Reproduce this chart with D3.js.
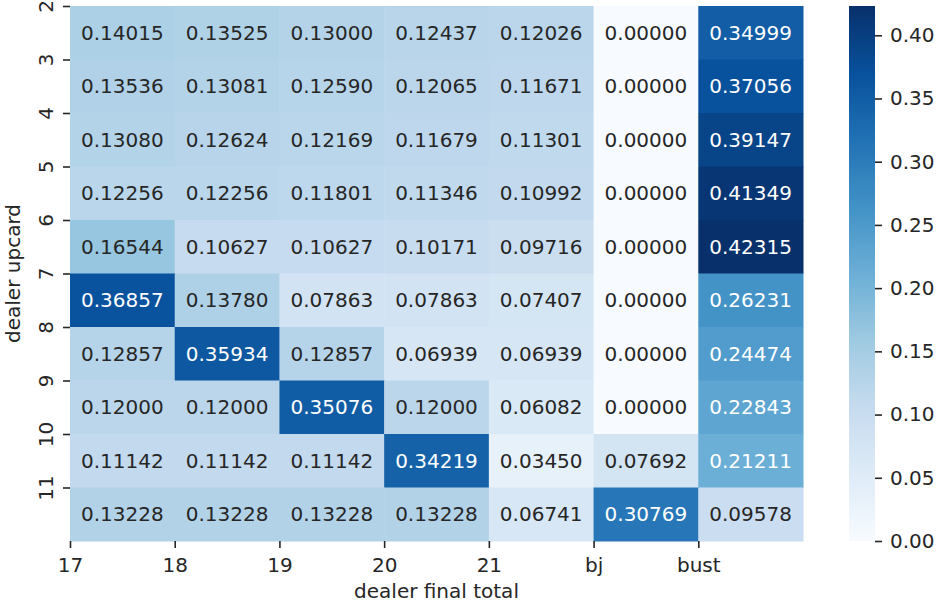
<!DOCTYPE html>
<html>
<head>
<meta charset="utf-8">
<script src="https://cdn.jsdelivr.net/npm/d3@7"></script>
<style>
  body { margin: 0; background: #fff; }
  text { font-family: "DejaVu Sans", sans-serif; }
</style>
</head>
<body>
<div id="chart"></div>
<script>
// -------------------- DATA --------------------
const FINAL_TOTALS = ["17", "18", "19", "20", "21", "bj", "bust"];
const UPCARDS = ["2", "3", "4", "5", "6", "7", "8", "9", "10", "11"];
const PROBS = [
  [0.14015, 0.13525, 0.13000, 0.12437, 0.12026, 0.00000, 0.34999],
  [0.13536, 0.13081, 0.12590, 0.12065, 0.11671, 0.00000, 0.37056],
  [0.13080, 0.12624, 0.12169, 0.11679, 0.11301, 0.00000, 0.39147],
  [0.12256, 0.12256, 0.11801, 0.11346, 0.10992, 0.00000, 0.41349],
  [0.16544, 0.10627, 0.10627, 0.10171, 0.09716, 0.00000, 0.42315],
  [0.36857, 0.13780, 0.07863, 0.07863, 0.07407, 0.00000, 0.26231],
  [0.12857, 0.35934, 0.12857, 0.06939, 0.06939, 0.00000, 0.24474],
  [0.12000, 0.12000, 0.35076, 0.12000, 0.06082, 0.00000, 0.22843],
  [0.11142, 0.11142, 0.11142, 0.34219, 0.03450, 0.07692, 0.21211],
  [0.13228, 0.13228, 0.13228, 0.13228, 0.06741, 0.30769, 0.09578]
];
const CBAR_TICKS = [0, 0.05, 0.10, 0.15, 0.20, 0.25, 0.30, 0.35, 0.40];

// matplotlib "Blues"
const BLUES = ["#f7fbff", "#deebf7", "#c6dbef", "#9ecae1", "#6baed6",
               "#4292c6", "#2171b5", "#08519c", "#08306b"];

const W = 938, H = 607;
const FS = "20px";
const INK = "#262626";
const margin = { top: 6, left: 70 },
      width = 733,
      height = 535;

const svg = d3.select("#chart").append("svg")
  .attr("width", W).attr("height", H);

const g = svg.append("g")
  .attr("transform", `translate(${margin.left}, ${margin.top})`);

const cells = [];
PROBS.forEach((row, i) => row.forEach((v, j) => {
  cells.push({ upcard: UPCARDS[i], total: FINAL_TOTALS[j], value: v });
}));

const vmin = 0, vmax = d3.max(cells, d => d.value);

// -------------------- SCALES --------------------
const x = d3.scaleBand().domain(FINAL_TOTALS).range([0, width]);
const y = d3.scaleBand().domain(UPCARDS).range([0, height]);

const cmap = d3.scaleLinear()
  .domain(d3.range(BLUES.length).map(i => i / (BLUES.length - 1)))
  .range(BLUES)
  .interpolate(d3.interpolateRgb)
  .clamp(true);
const color = v => cmap((v - vmin) / (vmax - vmin));

function lum(c) {
  const rgb = d3.rgb(c);
  const f = u => { u /= 255; return u <= 0.03928 ? u / 12.92 : Math.pow((u + 0.055) / 1.055, 2.4); };
  return 0.2126 * f(rgb.r) + 0.7152 * f(rgb.g) + 0.0722 * f(rgb.b);
}

// -------------------- CELLS --------------------
g.selectAll(".cell")
  .data(cells)
  .join("rect")
  .attr("class", "cell")
  .attr("x", d => x(d.total))
  .attr("y", d => y(d.upcard))
  .attr("width", x.bandwidth() + 0.5)
  .attr("height", y.bandwidth() + 0.5)
  .attr("fill", d => color(d.value));

g.selectAll(".annot")
  .data(cells)
  .join("text")
  .attr("class", "annot")
  .attr("x", d => x(d.total) + x.bandwidth() / 2)
  .attr("y", d => y(d.upcard) + y.bandwidth() / 2)
  .attr("text-anchor", "middle")
  .attr("dominant-baseline", "central")
  .style("font-size", FS)
  .attr("fill", d => lum(color(d.value)) > 0.408 ? INK : "#fff")
  .text(d => d.value.toFixed(5));

// -------------------- AXES (ticks on cell edges) --------------------
const xTick = d3.scalePoint().domain(FINAL_TOTALS)
  .range([x(FINAL_TOTALS[0]), x(FINAL_TOTALS[FINAL_TOTALS.length - 1])]);
const yTick = d3.scalePoint().domain(UPCARDS)
  .range([y(UPCARDS[0]), y(UPCARDS[UPCARDS.length - 1])]);

const xAxis = g.append("g")
  .attr("transform", `translate(0, ${height})`)
  .call(d3.axisBottom(xTick).tickSize(7).tickPadding(10));
xAxis.select(".domain").remove();
xAxis.selectAll("text").style("font-size", FS).attr("fill", INK);
xAxis.selectAll("line").attr("stroke", INK).attr("stroke-width", 1.6);

const yAxis = g.append("g")
  .call(d3.axisLeft(yTick).tickSize(7).tickPadding(0));
yAxis.select(".domain").remove();
yAxis.selectAll("line").attr("stroke", INK).attr("stroke-width", 1.6);
yAxis.selectAll("text")
  .style("font-size", FS)
  .attr("fill", INK)
  .attr("x", null).attr("dy", null)
  .attr("text-anchor", "middle")
  .attr("dominant-baseline", "central")
  .attr("transform", "translate(-24.5, 0) rotate(-90)");

g.append("text")
  .attr("x", width / 2)
  .attr("y", height + 57)
  .attr("text-anchor", "middle")
  .style("font-size", FS)
  .attr("fill", INK)
  .text("dealer final total");

g.append("text")
  .attr("transform", `translate(${-50}, ${height / 2}) rotate(-90)`)
  .attr("text-anchor", "middle")
  .style("font-size", FS)
  .attr("fill", INK)
  .text("dealer upcard");

// -------------------- COLORBAR --------------------
const cbX = 849, cbW = 26, cbTop = margin.top, cbH = height;
const cbScale = d3.scaleLinear().domain([vmin, vmax]).range([cbTop + cbH, cbTop]);

const grad = svg.append("defs").append("linearGradient")
  .attr("id", "cbgrad")
  .attr("x1", 0).attr("y1", 1).attr("x2", 0).attr("y2", 0);
grad.selectAll("stop")
  .data(d3.range(0, 1.0001, 0.025))
  .join("stop")
  .attr("offset", d => d)
  .attr("stop-color", d => cmap(d));

svg.append("rect")
  .attr("x", cbX).attr("y", cbTop)
  .attr("width", cbW).attr("height", cbH)
  .attr("fill", "url(#cbgrad)");

const cbAxis = svg.append("g")
  .attr("transform", `translate(${cbX + cbW}, 0)`)
  .call(d3.axisRight(cbScale).tickValues(CBAR_TICKS).tickFormat(d3.format(".2f")).tickSize(7).tickPadding(8));
cbAxis.select(".domain").remove();
cbAxis.selectAll("text").style("font-size", FS).attr("fill", INK);
cbAxis.selectAll("line").attr("stroke", INK).attr("stroke-width", 1.6);
</script>
</body>
</html>
